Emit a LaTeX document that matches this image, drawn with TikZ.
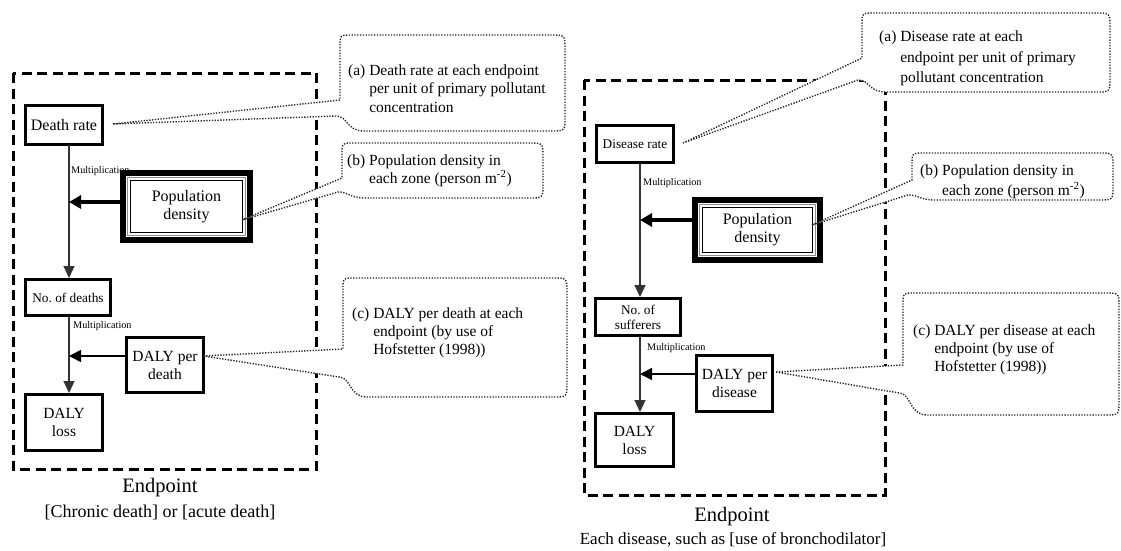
\documentclass[tikz,border=0pt]{standalone}
\usepackage{fontspec}
\setmainfont{Liberation Serif}
\usetikzlibrary{arrows.meta,calc}
\newcommand{\calloutdraw}[7]{%
  \path[callout] (#7) -- (#1,#5) -- (#1,#2+12) .. controls (#1,#2) .. (#1+12,#2)
    -- (#3-14,#2) .. controls (#3,#2) .. (#3,#2+14)
    -- (#3,#4-14) .. controls (#3,#4) .. (#3-14,#4)
    -- (#1+24,#4) .. controls (#1+6,#4) and (#1+8,#6) .. (#1-4,#6) -- cycle;}
\begin{document}
\begin{tikzpicture}[x=1pt,y=-1pt,
  boxn/.style={draw=black,line width=3pt,fill=white,inner sep=0pt,outer sep=0pt,align=center},
  big/.style={font=\fontsize{16}{18}\selectfont},
  mid/.style={font=\fontsize{15.5}{18}\selectfont},
  small/.style={font=\fontsize{13.3}{15}\selectfont},
  mult/.style={font=\fontsize{10.2}{12}\selectfont,inner sep=0pt,anchor=west},
  popbox/.style={draw=black,line width=6pt,fill=white,inner sep=0pt,outer sep=0pt,align=center,font=\fontsize{16}{18}\selectfont},
  flowline/.style={draw=black!80,line width=1.2pt,-{Triangle[length=12pt,width=11pt]}},
  fatarrow/.style={draw=black,line width=4pt,-{Triangle[length=12pt,width=13pt]}},
  sidearrow/.style={draw=black,line width=1.6pt,-{Triangle[length=12pt,width=12pt]}},
  endbox/.style={draw=black,line width=3pt,dash pattern=on 10pt off 5.5pt},
  callout/.style={draw=black!85,line width=1.4pt,dash pattern=on 1.3pt off 1.5pt,fill=white},
  ctext/.style={inner sep=0pt,anchor=base west,align=left,font=\fontsize{15.5}{18.5}\selectfont},
  endlabel/.style={inner sep=0pt,align=center}]
\useasboundingbox (0,0) rectangle (1121,551);

% ---------- dashed endpoint frames ----------
\draw[endbox] (13,73) rectangle (316,469);
\draw[endbox] (584,80) rectangle (885,495);

% ---------- left panel ----------
\coordinate (L1) at (69,0);
\node[boxn,big,minimum width=77pt,minimum height=39pt] (deathrate) at (64,125) {Death rate};
\node[popbox,minimum width=127pt,minimum height=67pt] (popdens) at (186.5,206.5) {Population\\density};
\draw[black!45,line width=1pt] ([shift={(4.5,4.5)}]popdens.north west) rectangle ([shift={(-4.5,-4.5)}]popdens.south east);
\draw[black,line width=1.5pt] ([shift={(7.5,7.5)}]popdens.north west) rectangle ([shift={(-7.5,-7.5)}]popdens.south east);
\node[boxn,small,minimum width=85pt,minimum height=36pt] (nodeaths) at (68,297.5) {No.\ of deaths};
\node[boxn,mid,minimum width=77pt,minimum height=55pt] (dalyper) at (165,365) {DALY per\\death};
\node[boxn,mid,minimum width=77pt,minimum height=56pt] (dalyloss) at (64,422.5) {DALY\\loss};

\draw[flowline] (deathrate.south -| L1) -- ([yshift=1.5pt]nodeaths.north -| L1);
\draw[flowline] (nodeaths.south -| L1) -- ([yshift=1.5pt]dalyloss.north -| L1);
\draw[fatarrow] ([yshift=4.5pt]popdens.west) -- ([yshift=4.5pt]popdens.west -| L1);
\draw[sidearrow] ([yshift=9pt]dalyper.west) -- ([yshift=9pt]dalyper.west -| L1);
\node[mult] (mult1) at (71,171) {Multiplication};
\node[mult] (mult2) at (73,326) {Multiplication};

% ---------- right panel ----------
\coordinate (L2) at (640,0);
\node[boxn,small,minimum width=77pt,minimum height=37pt] (diseaserate) at (635,144) {Disease rate};
\node[popbox,minimum width=125pt,minimum height=60pt] (popdensR) at (757.5,230) {Population\\density};
\draw[black!45,line width=1pt] ([shift={(4.5,4.5)}]popdensR.north west) rectangle ([shift={(-4.5,-4.5)}]popdensR.south east);
\draw[black,line width=1.5pt] ([shift={(7.5,7.5)}]popdensR.north west) rectangle ([shift={(-7.5,-7.5)}]popdensR.south east);
\node[boxn,small,minimum width=85pt,minimum height=37pt] (sufferers) at (638,317) {No.\ of\\sufferers};
\node[boxn,mid,minimum width=76pt,minimum height=56pt] (dalyperR) at (734.5,383.5) {DALY per\\disease};
\node[boxn,mid,minimum width=78pt,minimum height=53pt] (dalylossR) at (634.5,440) {DALY\\loss};

\draw[flowline] (diseaserate.south -| L2) -- ([yshift=1.5pt]sufferers.north -| L2);
\draw[flowline] (sufferers.south -| L2) -- ([yshift=1.5pt]dalylossR.north -| L2);
\draw[fatarrow] ([yshift=10pt]popdensR.west) -- ([yshift=10pt]popdensR.west -| L2);
\draw[sidearrow] ([yshift=9.5pt]dalyperR.west) -- ([yshift=9.5pt]dalyperR.west -| L2);
\node[mult] (mult3) at (643,183) {Multiplication};
\node[mult] (mult4) at (647,348) {Multiplication};

% ---------- callouts ----------
\coordinate (tA1) at ($(deathrate.east)+(10.5,-1)$);
\coordinate (tB1) at ($(popdens.east)+(-8,13.5)$);
\coordinate (tC1) at ($(dalyper.east)+(0,-9)$);
\coordinate (tA2) at ($(diseaserate.east)+(9.5,-1)$);
\coordinate (tB2) at ($(popdensR.east)+(-8,-5)$);
\coordinate (tC2) at ($(dalyperR.east)+(3.5,-11.5)$);

\calloutdraw{340}{35}{565}{131}{100}{116}{tA1}
\calloutdraw{342}{143}{543}{198}{178}{192}{tB1}
\calloutdraw{343}{278}{567}{397}{349}{377}{tC1}
\calloutdraw{862}{13}{1110}{92}{58}{80}{tA2}
\calloutdraw{912}{153}{1113}{200}{180}{195}{tB2}
\calloutdraw{903}{293}{1119}{415}{365}{393}{tC2}

% anchors at the baseline of each text's last line
\node[ctext] (cA1) at (348,112) {(a) Death rate at each endpoint\\\phantom{(a)\ }per unit of primary pollutant\\\phantom{(a)\ }concentration};
\node[ctext,font=\fontsize{15.5}{18}\selectfont] (cB1) at (347,183) {(b) Population density in\\\phantom{(b)\ }each zone (person m\textsuperscript{-2})};
\node[ctext,font=\fontsize{15.5}{18}\selectfont] (cC1) at (352,354) {(c) DALY per death at each\\\phantom{(c)\ }endpoint (by use of\\\phantom{(c)\ }Hofstetter (1998))};
\node[ctext,font=\fontsize{15.5}{20}\selectfont] (cA2) at (879,82) {(a) Disease rate at each\\\phantom{(a)\ }endpoint per unit of primary\\\phantom{(a)\ }pollutant concentration};
\node[ctext,font=\fontsize{15.5}{20}\selectfont] (cB2) at (920,195) {(b) Population density in\\\phantom{(b)\ }each zone (person m\textsuperscript{-2})};
\node[ctext,font=\fontsize{15.5}{18}\selectfont] (cC2) at (913,371) {(c) DALY per disease at each\\\phantom{(c)\ }endpoint (by use of\\\phantom{(c)\ }Hofstetter (1998))};

% ---------- bottom labels ----------
\node[endlabel,font=\fontsize{20.5}{22}\selectfont] (ep1) at (160,488) {Endpoint};
\node[endlabel,font=\fontsize{18}{20}\selectfont] (ep1b) at (160,512) {[Chronic death] or [acute death]};
\node[endlabel,font=\fontsize{20.5}{22}\selectfont] (ep2) at (732,517) {Endpoint};
\node[endlabel,font=\fontsize{17}{20}\selectfont] (ep2b) at (733,540) {Each disease, such as [use of bronchodilator]};
\end{tikzpicture}
\end{document}
